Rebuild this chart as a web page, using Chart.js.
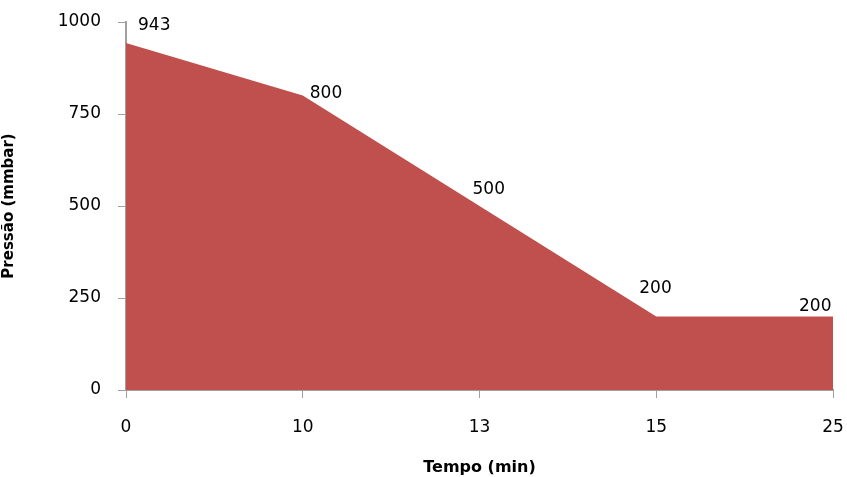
<!DOCTYPE html>
<html>
<head>
<meta charset="utf-8">
<script src="https://cdn.jsdelivr.net/npm/chart.js@4"></script>
<style>
  html, body { margin: 0; padding: 0; background: #fff; }
  #wrap { width: 847px; height: 477px; }
</style>
</head>
<body>
<div id="wrap"><canvas id="pressureChart"></canvas></div>
<script>
// time steps (min) and pressure (mmbar)
const tempos = ['0', '10', '13', '15', '25']
const pressoes = [943, 800, 500, 200, 200]
const yTicks = [0, 250, 500, 750, 1000]

const fontFamily = "'DejaVu Sans', Verdana, sans-serif"
const axisGray = '#a0a0a0'

// value labels sit up and to the right of each point
const labelShift = [[12, -17], [7, -2], [-7, -16], [-17, -28], [-34, -10]]

const valueLabels = {
  id: 'valueLabels',
  afterDatasetsDraw(chart) {
    const ctx = chart.ctx
    const meta = chart.getDatasetMeta(0)
    ctx.save()
    ctx.font = '17px ' + fontFamily
    ctx.fillStyle = '#000'
    ctx.textBaseline = 'middle'
    ctx.textAlign = 'left'
    meta.data.forEach((pt, i) => {
      const s = labelShift[i]
      ctx.fillText(String(pressoes[i]), pt.x + s[0], pt.y + s[1])
    })
    ctx.restore()
  }
}

// keep the plot box fixed, ignore tick label overhang
const noOverhang = scale => {
  scale.paddingLeft = 0
  scale.paddingRight = 0
  scale.paddingTop = 0
  scale.paddingBottom = 0
}

const ctx = document.getElementById('pressureChart').getContext('2d')
new Chart(ctx, {
  type: 'line',
  data: {
    labels: tempos,
    datasets: [{
      data: pressoes,
      fill: 'origin',
      backgroundColor: '#C0504D',
      borderWidth: 0,
      pointRadius: 0,
      tension: 0
    }]
  },
  options: {
    responsive: true,
    maintainAspectRatio: false,
    animation: false,
    layout: { padding: { top: 22, right: 14, left: 0, bottom: 0 } },
    plugins: {
      legend: { display: false },
      tooltip: { enabled: false }
    },
    scales: {
      x: {
        type: 'category',
        offset: false,
        grid: { drawOnChartArea: false, drawTicks: true, tickLength: 8, color: axisGray },
        border: { color: axisGray, width: 2 },
        ticks: { color: '#000', font: { family: fontFamily, size: 17 }, padding: 19, maxRotation: 0 },
        title: {
          display: true,
          text: 'Tempo (min)',
          color: '#000',
          font: { family: fontFamily, size: 16, weight: 'bold' },
          padding: { top: 9, bottom: 0 }
        },
        afterFit(scale) {
          noOverhang(scale)
          scale.height = 87
        }
      },
      y: {
        min: 0,
        max: 1000,
        afterBuildTicks(scale) { scale.ticks = yTicks.map(v => ({ value: v })) },
        grid: { drawOnChartArea: false, drawTicks: true, tickLength: 8, color: axisGray },
        border: { color: axisGray, width: 2 },
        ticks: {
          color: '#000',
          font: { family: fontFamily, size: 17 },
          padding: 17,
          callback: v => String(v)
        },
        title: {
          display: true,
          text: 'Pressão (mmbar)',
          color: '#000',
          font: { family: fontFamily, size: 15, weight: 'bold' },
          padding: { top: 0, bottom: 10 }
        },
        afterFit(scale) {
          noOverhang(scale)
          scale.width = 126
        }
      }
    }
  },
  plugins: [valueLabels]
})
</script>
</body>
</html>
